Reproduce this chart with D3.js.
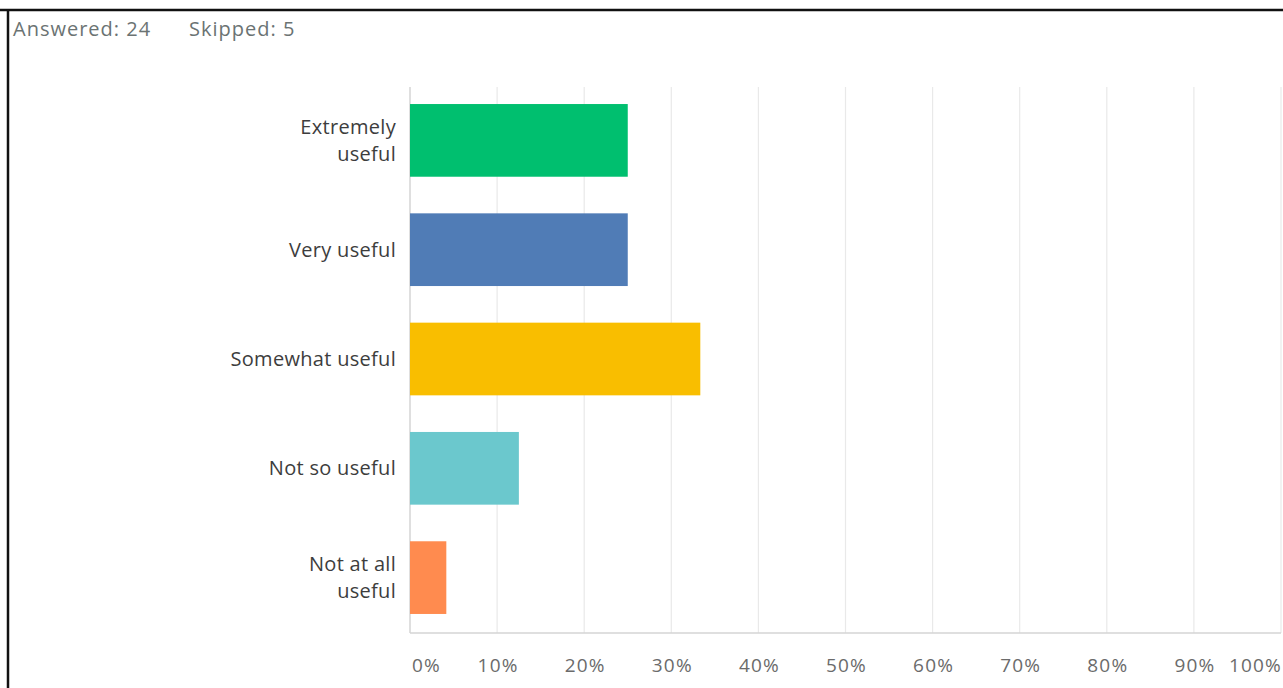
<!DOCTYPE html>
<html><head><meta charset="utf-8">
<script src="https://cdn.jsdelivr.net/npm/d3@7"></script>
<style>
html,body{margin:0;padding:0;background:#fff;}
svg{display:block;font-family:"Open Sans","Noto Sans",sans-serif;}
</style></head>
<body><svg id="c" width="1283" height="688"></svg>
<script>
const categories = [["Extremely","useful"],["Very useful"],["Somewhat useful"],["Not so useful"],["Not at all","useful"]];
const values = [25.0, 25.0, 33.33, 12.5, 4.17];
const colors = ["#00bf6f","#507cb6","#f9be00","#6bc8cd","#ff8b4f"];
const tickValues = [0,10,20,30,40,50,60,70,80,90,100];
const headerTexts = ["Answered: 24","Skipped: 5"];

const svg = d3.select("#c");
// frame
svg.append("line").attr("x1",0).attr("x2",1283).attr("y1",10).attr("y2",10).attr("stroke","#111").attr("stroke-width",2.5);
svg.append("line").attr("x1",8).attr("x2",8).attr("y1",9).attr("y2",688).attr("stroke","#111").attr("stroke-width",2.5);

svg.selectAll("text.hdr").data(headerTexts).join("text")
  .attr("class","hdr").attr("x",(d,i)=>[13,189][i]).attr("y",36)
  .attr("font-size",20).attr("letter-spacing","1px").attr("fill","#6b7373").text(d=>d);

const x = d3.scaleLinear().domain([0,100]).range([410,1281]);
const idx = d3.range(categories.length);
const y = d3.scaleBand().domain(idx).range([87,633]).paddingInner(0.335).paddingOuter(0.165);

// gridlines
svg.selectAll("line.grid").data(tickValues.slice(1)).join("line")
  .attr("class","grid").attr("x1",d=>x(d)).attr("x2",d=>x(d))
  .attr("y1",87).attr("y2",633).attr("stroke","#e9e9e9").attr("stroke-width",1.2);
// axis lines
svg.append("line").attr("x1",x(0)).attr("x2",x(0)).attr("y1",87).attr("y2",633).attr("stroke","#d4d4d4").attr("stroke-width",1.5);
svg.append("line").attr("x1",x(0)).attr("x2",x(100)).attr("y1",633).attr("y2",633).attr("stroke","#d4d4d4").attr("stroke-width",1.5);

svg.selectAll("rect.bar").data(idx).join("rect")
  .attr("class","bar").attr("x",x(0)).attr("y",i=>y(i)-1)
  .attr("width",i=>x(values[i])-x(0)).attr("height",y.bandwidth())
  .attr("fill",i=>colors[i]);

// category labels
idx.forEach(i=>{
  const lines = categories[i];
  const cy = y(i)+y.bandwidth()/2 - 1;
  const lh = 27;
  lines.forEach((t,k)=>{
    svg.append("text").attr("x",396).attr("y",cy+(k-(lines.length-1)/2)*lh)
      .attr("dy","0.35em").attr("text-anchor","end")
      .attr("font-size",20).attr("letter-spacing","0.3px")
      .attr("fill","#3d3d3d").text(t);
  });
});

// tick labels
svg.selectAll("text.tick").data(tickValues).join("text")
  .attr("class","tick")
  .attr("x",d=> d===0 ? x(d)+2 : d===100 ? x(d)+1 : x(d)+1)
  .attr("text-anchor",d=> d===0 ? "start" : d===100 ? "end" : "middle")
  .attr("y",665).attr("dy","0.35em")
  .attr("font-size",19).attr("letter-spacing","1.2px")
  .attr("fill","#6b6b6b").text(d=>d+"%");
</script></body></html>
